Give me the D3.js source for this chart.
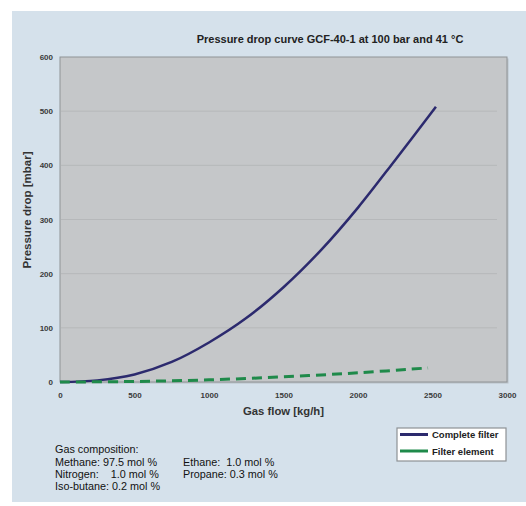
<!DOCTYPE html>
<html>
<head>
<meta charset="utf-8">
<script src="https://cdn.jsdelivr.net/npm/d3@7"></script>
<style>
html,body{margin:0;padding:0;background:#fff;}
svg{display:block;}
</style>
</head>
<body>
<svg id="chart" width="526" height="506"></svg>
<script>
// ---- data ----
const completeFlow = [0, 250, 500, 750, 1000, 1250, 1500, 1750, 2000, 2250, 2523];
const completeDrop = [0, 3, 14, 37, 73, 118, 175, 243, 322, 410, 508];
const elementFlow = [0, 500, 1000, 1500, 2000, 2470];
const elementDrop = [0, 1, 4, 9.6, 17, 26];
const xTicks = [0, 500, 1000, 1500, 2000, 2500, 3000];
const yTicks = [0, 100, 200, 300, 400, 500, 600];
const seriesNames = ["Complete filter", "Filter element"];
const seriesColors = ["#2c2a6e", "#1f8a4a"];
const titleText = "Pressure drop curve GCF-40-1 at 100 bar and 41 °C";
const xTitle = "Gas flow [kg/h]";
const yTitle = "Pressure drop [mbar]";
const compHeader = "Gas composition:";
const compCol1 = ["Methane: 97.5 mol %", "Nitrogen:\u00a0\u00a0\u00a0 1.0 mol %", "Iso-butane: 0.2 mol %"];
const compCol2 = ["Ethane:\u00a0 1.0 mol %", "Propane: 0.3 mol %"];

// ---- layout ----
const svg = d3.select("#chart");
const font = "'Liberation Sans', Arial, Helvetica, sans-serif";
svg.append("rect").attr("x", 12).attr("y", 11).attr("width", 514).attr("height", 491).attr("fill", "#d5e1eb");

const plot = {left: 60, top: 57, right: 507, bottom: 382};
const x = d3.scaleLinear().domain([0, 3000]).range([plot.left, plot.right]);
const y = d3.scaleLinear().domain([0, 600]).range([plot.bottom, plot.top]);

// plot background
svg.append("rect").attr("x", plot.left + 1.5).attr("y", plot.top + 1.5)
  .attr("width", plot.right - plot.left).attr("height", plot.bottom - plot.top)
  .attr("fill", "#9fa4a8").attr("opacity", 0.5);
svg.append("rect").attr("x", plot.left).attr("y", plot.top)
  .attr("width", plot.right - plot.left).attr("height", plot.bottom - plot.top)
  .attr("fill", "#c5c7c9").attr("stroke", "#8f9396").attr("stroke-width", 1);

// gridlines
svg.append("g").selectAll("line").data(yTicks.filter(d => d > 0 && d < 600)).join("line")
  .attr("x1", plot.left + 1).attr("x2", plot.right - 10)
  .attr("y1", d => y(d)).attr("y2", d => y(d))
  .attr("stroke", "#b6b8ba").attr("stroke-width", 1);

// axes labels via d3 axes
const yAxis = svg.append("g").attr("transform", `translate(${plot.left},0)`)
  .call(d3.axisLeft(y).tickValues(yTicks).tickFormat(d3.format("d")).tickSize(0).tickPadding(7));
yAxis.select(".domain").remove();
yAxis.selectAll("text").attr("font-family", font).attr("font-size", 8).attr("font-weight", "bold").attr("fill", "#3a3a3a");

const xAxis = svg.append("g").attr("transform", `translate(0,${plot.bottom})`)
  .call(d3.axisBottom(x).tickValues(xTicks).tickFormat(d3.format("d")).tickSize(0).tickPadding(10));
xAxis.select(".domain").remove();
xAxis.selectAll("text").attr("font-family", font).attr("font-size", 8).attr("font-weight", "bold").attr("fill", "#3a3a3a");

// lines
const line = d3.line().x(d => x(d[0])).y(d => y(d[1])).curve(d3.curveCatmullRom);
svg.append("path").datum(completeFlow.map((f, i) => [f, completeDrop[i]]))
  .attr("d", line).attr("fill", "none").attr("stroke", seriesColors[0]).attr("stroke-width", 2.5);
svg.append("path").datum(elementFlow.map((f, i) => [f, elementDrop[i]]))
  .attr("d", line).attr("fill", "none").attr("stroke", seriesColors[1]).attr("stroke-width", 3)
  .attr("stroke-dasharray", "10,6");

// titles
svg.append("text").attr("x", 330).attr("y", 43).attr("text-anchor", "middle")
  .attr("font-family", font).attr("font-size", 11).attr("font-weight", "bold").attr("fill", "#222").text(titleText);
svg.append("text").attr("x", 283.5).attr("y", 415).attr("text-anchor", "middle")
  .attr("font-family", font).attr("font-size", 11.3).attr("font-weight", "bold").attr("fill", "#333").text(xTitle);
svg.append("text").attr("transform", `translate(31,210) rotate(-90)`)
  .attr("text-anchor", "middle")
  .attr("font-family", font).attr("font-size", 11.5).attr("font-weight", "bold").attr("fill", "#333").text(yTitle);

// gas composition
const comp = svg.append("g").attr("font-family", font).attr("font-size", 10.8).attr("fill", "#111");
comp.append("text").attr("x", 55).attr("y", 453).text(compHeader);
comp.selectAll(".c1").data(compCol1).join("text").attr("class", "c1")
  .attr("x", 55).attr("y", (d, i) => 466 + i * 11.8).text(d => d);
comp.selectAll(".c2").data(compCol2).join("text").attr("class", "c2")
  .attr("x", 183).attr("y", (d, i) => 466 + i * 11.8).text(d => d);

// legend
const lg = svg.append("g");
lg.append("rect").attr("x", 397).attr("y", 428).attr("width", 109).attr("height", 33)
  .attr("fill", "#fff").attr("stroke", "#8e9295").attr("stroke-width", 1.2);
seriesNames.forEach((n, i) => {
  const yy = 434.5 + i * 16.5;
  lg.append("line").attr("x1", 400).attr("x2", 428).attr("y1", yy).attr("y2", yy)
    .attr("stroke", seriesColors[i]).attr("stroke-width", 3);
  lg.append("text").attr("x", 432).attr("y", yy + 3.5).attr("font-family", font)
    .attr("font-size", 9.5).attr("font-weight", "bold").attr("fill", "#222").text(n);
});
</script>
</body>
</html>
